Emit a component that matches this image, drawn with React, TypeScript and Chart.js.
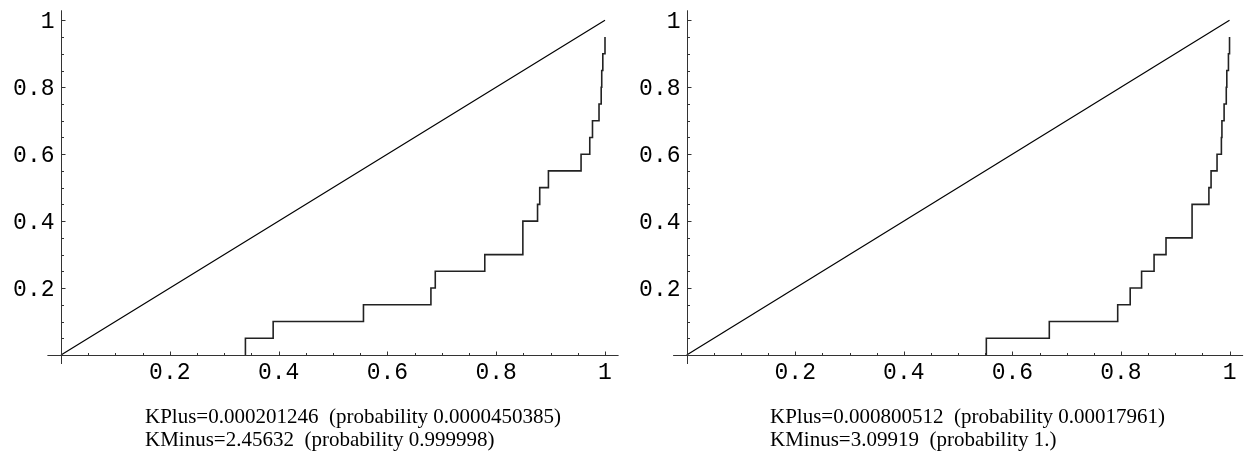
import React, { useEffect, useRef } from "react";
import { Chart, registerables } from "chart.js";

Chart.register(...registerables);

// Axis ticks (labelled majors, unlabelled minors)
const majorTicks = [0.2, 0.4, 0.6, 0.8, 1];
const tickLabels = ["0.2", "0.4", "0.6", "0.8", "1"];
const minorTicks = [0.05, 0.1, 0.15, 0.25, 0.3, 0.35, 0.45, 0.5, 0.55, 0.65, 0.7, 0.75, 0.85, 0.9, 0.95];

// Reference diagonal y = x
const diagonalX = [0, 1];
const diagonalY = [0, 1];

// Empirical distribution: level reached after each jump
const stepLevels = [
  0.05, 0.1, 0.15, 0.2, 0.25, 0.3, 0.35, 0.4, 0.45, 0.5,
  0.55, 0.6, 0.65, 0.7, 0.75, 0.8, 0.85, 0.9, 0.95,
];

// Jump positions, first sample
const leftJumpX = [
  0.339, 0.39, 0.556, 0.68, 0.688, 0.779, 0.849, 0.849, 0.876, 0.88,
  0.896, 0.956, 0.972, 0.977, 0.989, 0.993, 0.994, 0.996, 1.0,
];

// Jump positions, second sample
const rightJumpX = [
  0.552, 0.668, 0.794, 0.817, 0.838, 0.861, 0.883, 0.931, 0.931, 0.962,
  0.966, 0.977, 0.985, 0.986, 0.99, 0.994, 0.995, 0.998, 1.0,
];

const leftCaption = [
  "KPlus=0.000201246  (probability 0.0000450385)",
  "KMinus=2.45632  (probability 0.999998)",
];
const rightCaption = [
  "KPlus=0.000800512  (probability 0.00017961)",
  "KMinus=3.09919  (probability 1.)",
];

const AXIS_COLOR = "#333";
const TICK_FONT = "23px 'Liberation Mono', 'DejaVu Sans Mono', monospace";

// Axes crossing at the origin, inward tick marks and monospace labels
const originAxes = {
  id: "originAxes",
  afterDatasetsDraw(chart: any) {
    const { ctx, scales } = chart;
    const xs = scales.x;
    const ys = scales.y;
    const x0 = Math.round(xs.getPixelForValue(0)) + 0.5;
    const y0 = Math.round(ys.getPixelForValue(0)) + 0.5;
    ctx.save();
    ctx.strokeStyle = AXIS_COLOR;
    ctx.lineWidth = 1;
    ctx.beginPath();
    ctx.moveTo(xs.getPixelForValue(xs.min), y0);
    ctx.lineTo(xs.getPixelForValue(xs.max), y0);
    ctx.moveTo(x0, ys.getPixelForValue(ys.min));
    ctx.lineTo(x0, ys.getPixelForValue(ys.max));
    ctx.stroke();

    const mark = (v: number, len: number) => {
      const px = Math.round(xs.getPixelForValue(v)) + 0.5;
      const py = Math.round(ys.getPixelForValue(v)) + 0.5;
      ctx.beginPath();
      ctx.moveTo(px, y0);
      ctx.lineTo(px, y0 - len);
      ctx.moveTo(x0, py);
      ctx.lineTo(x0 + len, py);
      ctx.stroke();
    };
    majorTicks.forEach((v) => mark(v, 4));
    minorTicks.forEach((v) => mark(v, 2.5));

    ctx.fillStyle = "#000";
    ctx.font = TICK_FONT;
    ctx.textBaseline = "alphabetic";
    majorTicks.forEach((v, i) => {
      ctx.textAlign = "center";
      ctx.fillText(tickLabels[i], xs.getPixelForValue(v), y0 + 23);
      ctx.textAlign = "right";
      ctx.fillText(tickLabels[i], x0 - 7, ys.getPixelForValue(v) + 7.5);
    });
    ctx.restore();
  },
};

type PanelProps = {
  jumpX: number[];
  caption: string[];
  left: number;
  pad: { left: number; right: number; top: number; bottom: number };
  captionLeft: number;
};

function Panel({ jumpX, caption, left, pad, captionLeft }: PanelProps) {
  const ref = useRef<HTMLCanvasElement | null>(null);

  useEffect(() => {
    if (!ref.current) return;
    const stepData = [{ x: jumpX[0], y: 0 }].concat(
      jumpX.map((x, i) => ({ x, y: stepLevels[i] }))
    );
    const diagData = diagonalX.map((x, i) => ({ x, y: diagonalY[i] }));

    const chart = new Chart(ref.current, {
      type: "scatter",
      data: {
        datasets: [
          {
            data: diagData,
            showLine: true,
            borderColor: "#000",
            borderWidth: 1.2,
            pointRadius: 0,
          },
          {
            data: stepData,
            showLine: true,
            stepped: "before",
            borderColor: "#222",
            borderWidth: 1.6,
            pointRadius: 0,
          },
        ],
      },
      options: {
        animation: false,
        responsive: false,
        layout: { padding: pad },
        plugins: { legend: { display: false }, tooltip: { enabled: false }, title: { display: false } },
        scales: {
          x: { type: "linear", display: false, min: -0.025, max: 1.025 },
          y: { type: "linear", display: false, min: -0.027, max: 1.03 },
        },
      },
      plugins: [originAxes],
    });
    return () => chart.destroy();
  }, [jumpX, pad]);

  return (
    <div style={{ position: "absolute", left, top: 0, width: 624, height: 462 }}>
      <canvas ref={ref} width={624} height={462} style={{ display: "block" }} />
      <div
        style={{
          position: "absolute",
          left: captionLeft,
          top: 405,
          fontFamily: "'Liberation Serif', 'Times New Roman', serif",
          fontSize: 21,
          lineHeight: "23px",
          whiteSpace: "pre",
          color: "#000",
        }}
      >
        {caption.map((line, i) => (
          <div key={i}>{line}</div>
        ))}
      </div>
    </div>
  );
}

const leftPad = { left: 47.4, right: 5.4, top: 10.3, bottom: 98 };
const rightPad = { left: 49.1, right: 4.9, top: 10.3, bottom: 98 };

export default function App() {
  return (
    <div
      style={{
        position: "fixed",
        left: 0,
        top: 0,
        width: 1248,
        height: 462,
        background: "#fff",
        overflow: "hidden",
      }}
    >
      <Panel jumpX={leftJumpX} caption={leftCaption} left={0} pad={leftPad} captionLeft={145} />
      <Panel jumpX={rightJumpX} caption={rightCaption} left={624} pad={rightPad} captionLeft={146} />
    </div>
  );
}
